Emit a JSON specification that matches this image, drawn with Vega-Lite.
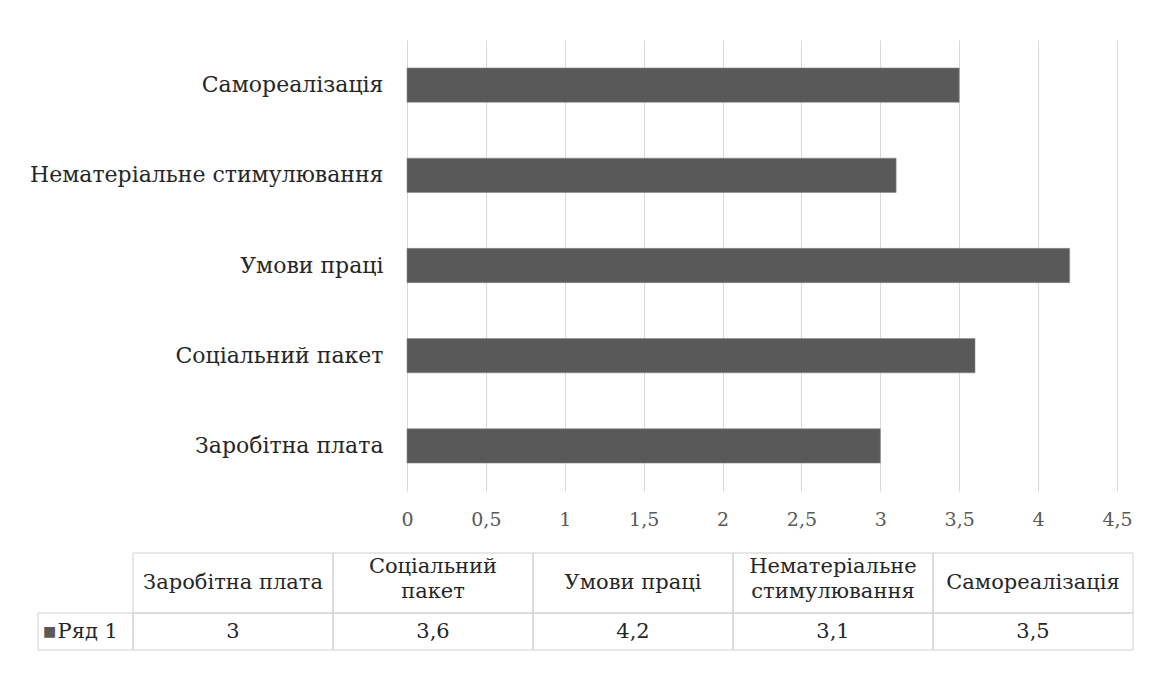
{
  "$schema": "https://vega.github.io/schema/vega-lite/v6.json",
  "background": "white",
  "padding": {"left": 8, "top": 40, "right": 26, "bottom": 27},
  "autosize": {"type": "pad"},
  "bounds": "flush",
  "spacing": 62,
  "config": {
    "view": {"stroke": null},
    "font": "DejaVu Serif",
    "locale": {"number": {"decimal": ",", "thousands": " ", "grouping": [3], "currency": ["", " грн"]}}
  },
  "datasets": {
    "scores": [
      {"category": "Заробітна плата", "header": "Заробітна плата", "value": 3},
      {"category": "Соціальний пакет", "header": "Соціальний\nпакет", "value": 3.6},
      {"category": "Умови праці", "header": "Умови праці", "value": 4.2},
      {"category": "Нематеріальне стимулювання", "header": "Нематеріальне\nстимулювання", "value": 3.1},
      {"category": "Самореалізація", "header": "Самореалізація", "value": 3.5}
    ]
  },
  "vconcat": [
    {
      "width": 1125,
      "height": 451,
      "data": {"name": "scores"},
      "mark": {"type": "bar", "color": "#595959", "stroke": "#8a8a8a", "strokeWidth": 0.6},
      "encoding": {
        "y": {
          "field": "category",
          "type": "nominal",
          "sort": ["Самореалізація", "Нематеріальне стимулювання", "Умови праці", "Соціальний пакет", "Заробітна плата"],
          "scale": {"paddingInner": 0.62, "paddingOuter": 0.31},
          "axis": {
            "title": null, "domain": false, "ticks": false, "offset": -399,
            "labelPadding": 24, "labelFontSize": 22, "labelColor": "#262626",
            "labelLimit": 600
          }
        },
        "x": {
          "field": "value",
          "type": "quantitative",
          "scale": {"domain": [0, 4.5], "nice": false, "range": [399, 1109]},
          "axis": {
            "title": null,
            "values": [0, 0.5, 1, 1.5, 2, 2.5, 3, 3.5, 4, 4.5],
            "format": "~g",
            "domain": false, "ticks": false,
            "grid": true, "gridColor": "#d9d9d9", "gridWidth": 1,
            "labelFontSize": 19, "labelColor": "#595959",
            "labelPadding": 19, "labelFlush": false, "labelOverlap": false
          }
        }
      }
    },
    {
      "spacing": 0,
      "bounds": "flush",
      "vconcat": [
        {
          "width": 1125,
          "height": 60,
          "data": {"name": "scores"},
          "encoding": {
            "x": {
              "field": "category",
              "type": "nominal",
              "sort": ["Заробітна плата", "Соціальний пакет", "Умови праці", "Нематеріальне стимулювання", "Самореалізація"],
              "scale": {"range": [125, 1125], "paddingInner": 0, "paddingOuter": 0},
              "axis": null
            }
          },
          "layer": [
            {"mark": {"type": "rect", "fill": "white", "fillOpacity": 0, "stroke": "#d0d0d0", "strokeWidth": 1}},
            {
              "transform": [{"filter": "indexof(datum.header, '\\n') < 0"}],
              "mark": {"type": "text", "fontSize": 21, "color": "#262626"},
              "encoding": {"text": {"field": "header"}}
            },
            {
              "transform": [{"filter": "indexof(datum.header, '\\n') >= 0"}],
              "mark": {"type": "text", "lineBreak": "\n", "fontSize": 21, "lineHeight": 25, "dy": -16, "color": "#262626"},
              "encoding": {"text": {"field": "header"}}
            }
          ]
        },
        {
          "width": 1125,
          "height": 37,
          "layer": [
            {
              "data": {"values": [{"series": "Ряд 1"}]},
              "encoding": {
                "x": {
                  "field": "series",
                  "type": "nominal",
                  "scale": {"range": [30, 125], "paddingInner": 0, "paddingOuter": 0},
                  "axis": null
                }
              },
              "layer": [
                {"mark": {"type": "rect", "fill": "white", "fillOpacity": 0, "stroke": "#d0d0d0", "strokeWidth": 1}},
                {"mark": {"type": "text", "text": "■", "dx": -36, "fontSize": 14, "font": "DejaVu Sans", "color": "#595959"}},
                {
                  "mark": {"type": "text", "align": "left", "dx": -28, "fontSize": 21, "color": "#262626"},
                  "encoding": {"text": {"field": "series"}}
                }
              ]
            },
            {
              "data": {"name": "scores"},
              "encoding": {
                "x": {
                  "field": "category",
                  "type": "nominal",
                  "sort": ["Заробітна плата", "Соціальний пакет", "Умови праці", "Нематеріальне стимулювання", "Самореалізація"],
                  "scale": {"range": [125, 1125], "paddingInner": 0, "paddingOuter": 0},
                  "axis": null
                }
              },
              "layer": [
                {"mark": {"type": "rect", "fill": "white", "fillOpacity": 0, "stroke": "#d0d0d0", "strokeWidth": 1}},
                {
                  "mark": {"type": "text", "fontSize": 21, "color": "#262626"},
                  "encoding": {"text": {"field": "value", "type": "quantitative", "format": "~g"}}
                }
              ]
            }
          ],
          "resolve": {"scale": {"x": "independent"}}
        }
      ]
    }
  ]
}
